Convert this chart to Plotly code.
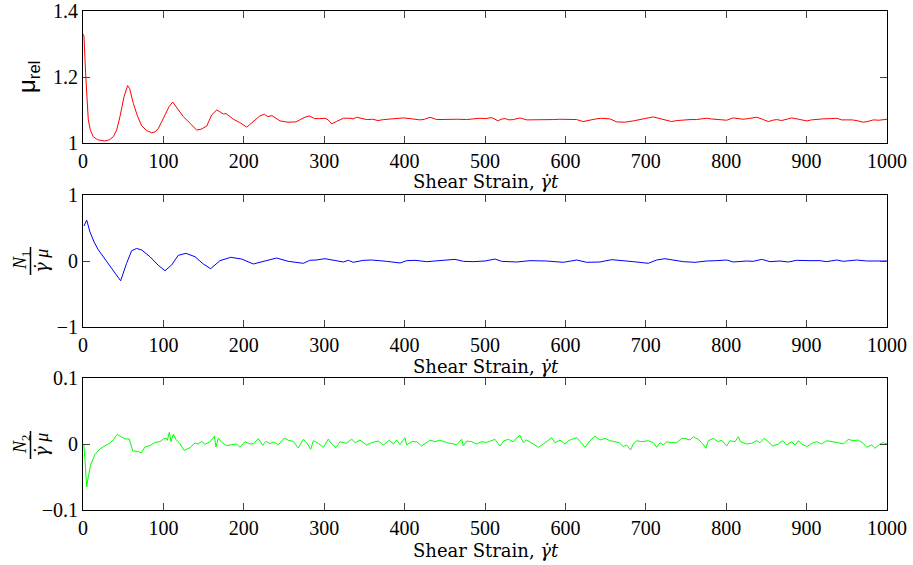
import plotly.graph_objects as go

# ---- relative viscosity vs shear strain ----
mu_strain = [0, 1.2, 3.5, 5, 6.6, 9, 12.8, 18, 27, 33, 37.7, 42, 46, 51, 55.5, 58, 62.6, 68, 73, 79,
             85.4, 90, 93.7, 98, 102, 107, 111.5, 116, 124.8, 133, 141.4, 147, 153.8, 160, 166.3, 170,
             174.5, 178, 182, 187, 195, 203.6, 207, 211.8, 216, 220, 225.5, 230, 235, 240, 245, 255,
             265, 271, 276, 281.5, 288, 294, 301, 305, 309.3, 315, 323.8, 332, 336, 340.4, 346, 352.7,
             360, 367, 374, 381.8, 390, 398.4, 406.7, 412, 419, 425, 431.6, 440, 448, 456.5, 466, 477,
             485, 493.8, 501, 508.3, 516.5, 520, 524.9, 530, 535.2, 540, 543.5, 551.9, 560, 568.4, 577,
             585, 593, 601.6, 608, 614, 622, 627, 632.7, 638, 645, 655.5, 663.7, 674, 684.5, 690, 696.8,
             703, 709.3, 714, 719.5, 726, 732, 739, 746.6, 755, 763, 769, 775.5, 781, 788, 794, 800.6,
             808.8, 815, 821, 827.5, 833, 838, 845, 852.4, 858, 862.8, 869, 875, 881.4, 890, 900, 906,
             912.6, 920, 930, 937.5, 943.6, 950, 957, 964, 970.5, 977, 983, 990, 1000]
mu_rel = [1.33, 1.324, 1.20, 1.12, 1.070, 1.04, 1.019, 1.010, 1.006, 1.010, 1.019, 1.040, 1.080, 1.140,
          1.174, 1.165, 1.120, 1.080, 1.052, 1.038, 1.031, 1.034, 1.044, 1.065, 1.085, 1.110, 1.124,
          1.110, 1.080, 1.060, 1.039, 1.042, 1.051, 1.085, 1.100, 1.095, 1.088, 1.089, 1.082, 1.072,
          1.062, 1.048, 1.055, 1.065, 1.075, 1.082, 1.087, 1.080, 1.083, 1.075, 1.067, 1.063, 1.064,
          1.072, 1.078, 1.082, 1.074, 1.074, 1.075, 1.070, 1.058, 1.065, 1.075, 1.075, 1.073, 1.078,
          1.074, 1.071, 1.072, 1.068, 1.071, 1.073, 1.074, 1.076, 1.074, 1.073, 1.070, 1.072, 1.078,
          1.071, 1.072, 1.073, 1.072, 1.071, 1.073, 1.075, 1.074, 1.077, 1.067, 1.072, 1.074, 1.070,
          1.071, 1.074, 1.076, 1.070, 1.070, 1.069, 1.071, 1.071, 1.072, 1.072, 1.070, 1.071, 1.065,
          1.068, 1.071, 1.073, 1.075, 1.073, 1.064, 1.063, 1.067, 1.069, 1.073, 1.076, 1.079, 1.076,
          1.072, 1.068, 1.065, 1.068, 1.070, 1.071, 1.071, 1.072, 1.075, 1.073, 1.072, 1.071, 1.069,
          1.076, 1.073, 1.072, 1.074, 1.075, 1.078, 1.072, 1.065, 1.069, 1.071, 1.068, 1.072, 1.076,
          1.072, 1.067, 1.070, 1.072, 1.073, 1.074, 1.075, 1.070, 1.070, 1.070, 1.067, 1.063, 1.066,
          1.070, 1.069, 1.072]

# ---- first normal stress difference ----
n1_strain = [1.2, 4.6, 8.7, 13.7, 19, 27.4, 37.7, 46.8, 54.2, 60.5, 66.7, 73, 83.3, 93.7, 102, 110.3,
             118.5, 128, 139.3, 149.6, 158.8, 170.4, 183.7, 197.4, 211.8, 222, 230.5, 240.8, 255.3, 266,
             274, 282, 290, 301, 311.4, 323.8, 330, 336.2, 348.7, 359, 377.7, 394.3, 402.6, 412.9, 427.5,
             442, 462.7, 473.1, 485.5, 500, 512.4, 520.7, 539.4, 556, 576.7, 597.4, 614, 626.5, 643,
             657.5, 672, 684.5, 703.1, 713.5, 723.8, 736.3, 746.7, 761.2, 775.7, 788.1, 800.5, 808.8,
             825.4, 833.7, 844.1, 854.4, 866.9, 877.2, 887.6, 904.2, 916.6, 924.9, 937.4, 945.7, 962.2,
             974.7, 991.3, 1000]
n1 = [0.53, 0.62, 0.44, 0.29, 0.17, 0.026, -0.136, -0.30, -0.035, 0.156, 0.19, 0.167, 0.065, -0.066,
      -0.147, -0.06, 0.086, 0.116, 0.065, -0.045, -0.116, 0.005, 0.056, 0.03, -0.045, -0.015, 0.005,
      0.045, -0.005, -0.02, -0.035, 0.01, 0.015, 0.035, 0.015, -0.015, 0.01, -0.02, 0.01, 0.015,
      -0.005, -0.03, 0.005, 0.01, -0.01, 0.005, 0.025, -0.005, -0.01, 0.0, 0.03, -0.005, -0.015,
      0.005, 0.0, -0.02, 0.015, -0.02, -0.015, 0.02, 0.01, -0.01, -0.035, 0.015, 0.035, 0.005, -0.01,
      -0.02, 0.0, 0.005, 0.015, -0.015, 0.0, -0.005, 0.025, -0.01, 0.0, -0.015, 0.01, 0.005, 0.005,
      -0.01, 0.015, -0.005, 0.015, 0.0, 0.0, 0.0]

# ---- second normal stress difference ----
n2_strain = [1.2, 4.6, 6.6, 9.6, 14.9, 21.1, 27.4, 33.6, 37.7, 42.7, 48.1, 52.2, 57.6, 61.8, 68.8, 72.2,
             77.1, 83.3, 89.6, 95.8, 99.9, 103.2, 104.9, 107.4, 109.5, 112.4, 115.7, 120.6, 125.6,
             133.1, 139.3, 143.4, 147.6, 151.7, 158, 163.4, 165.4, 168.3, 172.5, 178.7, 184.9, 191.2,
             195.3, 201.5, 207.7, 211.9, 218.1, 223.5, 227.6, 232.6, 236.7, 243, 250.4, 255.4, 261.6,
             267.8, 274, 278.2, 283.2, 286.5, 292.7, 298.9, 305.1, 309.3, 314.7, 319.7, 327.9, 334.2,
             338.3, 344.5, 352.8, 359, 367.3, 373.6, 381, 386, 390.1, 394.3, 400.5, 402.6, 408.8, 415,
             421.2, 425.4, 431.6, 437.8, 444, 452.3, 458.5, 464.8, 471, 473, 477.2, 483.4, 489.6, 495.9,
             502.1, 508.3, 512.4, 518.7, 523.6, 529, 535.2, 538.6, 543.5, 547.7, 551.8, 560.1, 566.3,
             572.6, 578.8, 582.9, 587.1, 593.3, 599.5, 603.7, 607.8, 614, 618.2, 624.4, 630.6, 636.8,
             643, 649.3, 655.5, 661.7, 667, 672, 676.2, 681.1, 684.5, 688.6, 694.8, 703.1, 709.3, 713.5,
             717.6, 721.8, 725.9, 732.1, 738.4, 744.6, 748.7, 754.9, 759.1, 765.3, 769.5, 774.8, 777.7,
             784, 790.2, 794.3, 800.5, 804.7, 810.9, 815.1, 818, 825.4, 831.6, 837.9, 842, 847, 852.4,
             857.8, 864.8, 870.2, 875.2, 881.4, 885.5, 889.7, 893.8, 900.1, 906.3, 912.5, 918.7, 924.9,
             933.2, 939.4, 945.7, 951.9, 958.1, 964.3, 970.5, 974.7, 980.9, 985, 991.3, 995.4, 1000]
n2 = [-0.001, -0.065, -0.049, -0.031, -0.016, -0.0076, -0.0025, 0.0015, 0.0066, 0.0146, 0.0106, 0.0076,
      0.0076, -0.0106, -0.011, -0.0136, -0.0045, -0.0025, 0.0025, 0.0035, 0.0076, 0.009, 0.0056, 0.0177,
      0.0035, 0.015, 0.0066, 0.0005, -0.0096, -0.0056, 0.0015, 0.0, 0.004, -0.0005, 0.0035, 0.0116,
      -0.0045, 0.009, 0.0025, -0.0025, -0.001, 0.0, -0.005, 0.0035, 0.0, 0.0005, 0.008, -0.002, 0.004,
      0.0005, 0.003, -0.001, 0.009, 0.0056, 0.004, -0.006, 0.007, 0.002, -0.008, 0.005, 0.001, -0.005,
      0.0075, 0.0, -0.0055, 0.0035, 0.001, 0.0075, 0.002, 0.006, -0.0015, 0.002, 0.0045, -0.0015,
      0.006, 0.0, 0.006, -0.001, 0.0095, -0.0015, 0.0035, 0.0035, -0.003, 0.001, 0.006, 0.0035, 0.006,
      0.002, 0.0, -0.001, 0.007, -0.003, 0.0045, 0.0035, 0.0, 0.0035, 0.0025, 0.0045, 0.007, -0.003,
      0.005, 0.007, 0.0035, 0.0085, 0.013, 0.002, 0.006, 0.0, -0.005, 0.0, 0.005, 0.0095, 0.002, 0.006,
      0.0, 0.005, 0.007, 0.0095, 0.004, -0.005, 0.005, 0.012, 0.006, 0.0085, 0.005, 0.0035, 0.002,
      -0.004, -0.0015, -0.009, 0.0, 0.005, 0.0035, 0.005, 0.002, -0.005, 0.002, -0.0015, 0.0035, 0.002,
      0.002, 0.0085, 0.0085, 0.006, 0.011, 0.007, 0.002, -0.0065, 0.005, 0.0085, 0.0035, 0.006, -0.003,
      0.005, 0.0035, 0.011, 0.0035, 0.0, 0.001, 0.005, 0.002, 0.0085, 0.0035, -0.003, 0.0, 0.005,
      -0.0015, 0.0035, -0.0015, 0.005, 0.0, -0.004, 0.001, 0.0035, 0.0, 0.005, 0.0035, 0.002, 0.0,
      0.007, 0.005, 0.006, 0.001, -0.005, -0.0015, -0.0065, 0.0, 0.002, 0.0]

x_ticks = list(range(0, 1001, 100))

W, H = 913, 565


def px_x(p):
    return p / W


def px_y(p):
    return 1 - p / H


serif = "Liberation Serif"
tick_font = dict(family=serif, size=20, color="black")

fig = go.Figure()
fig.add_trace(go.Scatter(x=mu_strain, y=mu_rel, mode="lines",
                         line=dict(color="#ff0000", width=1), xaxis="x", yaxis="y"))
fig.add_trace(go.Scatter(x=n1_strain, y=n1, mode="lines",
                         line=dict(color="#0000ff", width=1), xaxis="x2", yaxis="y2"))
fig.add_trace(go.Scatter(x=n2_strain, y=n2, mode="lines",
                         line=dict(color="#00ff00", width=1), xaxis="x3", yaxis="y3"))

x_dom = [px_x(83), px_x(887)]
panels = [(11, 143), (195, 327), (378, 510)]
y_ranges = [[1, 1.4], [-1, 1], [-0.1, 0.1]]
y_ticks = [[1, 1.2, 1.4], [-1, 0, 1], [-0.1, 0, 0.1]]

axis_style = dict(ticks="inside", ticklen=7, tickwidth=1, tickcolor="#444",
                  showline=True, linecolor="black", linewidth=1, mirror="ticks",
                  showgrid=False, zeroline=False, tickfont=tick_font, automargin=False)

layout = dict(width=W, height=H,
              margin=dict(l=0, r=0, t=0, b=0, pad=0, autoexpand=False),
              paper_bgcolor="white", plot_bgcolor="white", showlegend=False)

for i, ((top, bot), yr, yt) in enumerate(zip(panels, y_ranges, y_ticks)):
    sfx = "" if i == 0 else str(i + 1)
    layout["xaxis" + sfx] = dict(domain=x_dom, range=[0, 1000], tickvals=x_ticks,
                                 anchor="y" + sfx, **axis_style)
    layout["yaxis" + sfx] = dict(domain=[px_y(bot), px_y(top)], range=yr, tickvals=yt,
                                 anchor="x" + sfx, **axis_style)

fig.update_layout(**layout)


def label(x, y, text, size, family=serif, angle=0):
    fig.add_annotation(x=px_x(x), y=px_y(y), xref="paper", yref="paper",
                       xanchor="center", yanchor="middle", text=text, textangle=angle,
                       showarrow=False, font=dict(family=family, size=size, color="black"))


# x-axis titles
gamma_dot = '<span style="font-family:DejaVu Serif">γ̇</span>'
title_text = "Shear Strain, <i>γ̇t</i>"
for yc in (182, 366, 550):
    label(486, yc, title_text, 18, family="DejaVu Serif")

# y-axis label, top panel
label(28, 77, "μ<sub>rel</sub>", 24, family="Liberation Sans", angle=-90)

# normalised stress labels drawn as fractions
for idx, yc in ((1, 261), (2, 445)):
    label(21, yc, f"<i>N</i><sub>{idx}</sub>", 18, angle=-90)
    label(41, yc, f"<i>{gamma_dot} μ</i>", 18, angle=-90)
    fig.add_shape(type="line", xref="paper", yref="paper",
                  x0=px_x(30.5), x1=px_x(30.5), y0=px_y(yc - 14), y1=px_y(yc + 14),
                  line=dict(color="black", width=1.5))

fig.write_html("out.html")
